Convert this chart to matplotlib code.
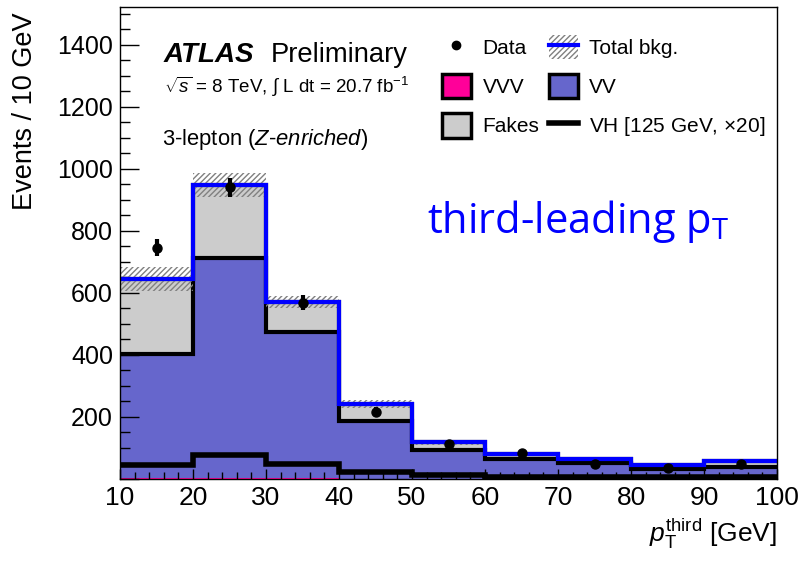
import numpy as np
import matplotlib.pyplot as plt
from matplotlib.patches import Patch
from matplotlib.lines import Line2D
from matplotlib.ticker import MultipleLocator, FuncFormatter

plt.rcParams['font.family'] = ['Liberation Sans', 'DejaVu Sans']
plt.rcParams['mathtext.fontset'] = 'custom'
plt.rcParams['mathtext.rm'] = 'Liberation Sans'
plt.rcParams['mathtext.it'] = 'Liberation Sans:italic'
plt.rcParams['mathtext.bf'] = 'Liberation Sans:bold'
plt.rcParams['hatch.linewidth'] = 1.0

# pT of third lepton, 10 GeV bins
edges = np.arange(10, 101, 10)
vvv = np.array([2, 3, 2, 1, 1, 0.5, 0.5, 0.3, 0.3])
vv = np.array([401, 710, 472, 186, 93, 64, 51, 32, 39])
fakes = np.array([242, 235, 97, 55, 25, 16, 12, 13, 19])
bkg_err = np.array([40, 38, 20, 14, 8, 6, 6, 5, 5])
vh_x20 = np.array([45, 77, 48, 22, 13, 6, 6, 5, 5])
data = np.array([745, 940, 568, 216, 113, 84, 48, 36, 48])

c_vvv = '#ff0099'
c_vv = '#6666cc'
c_fakes = '#cccccc'

vv_top = vvv + vv
total = vv_top + fakes
centers = 0.5 * (edges[:-1] + edges[1:])

fig = plt.figure(figsize=(8.03, 5.65), dpi=100)
ax = fig.add_axes([120 / 803, 86 / 565, 657 / 803, 472 / 565])

# stacked backgrounds
ax.stairs(vvv, edges, baseline=0, fill=True, color=c_vvv, zorder=1)
ax.stairs(vv_top, edges, baseline=vvv, fill=True, color=c_vv, zorder=1)
ax.stairs(total, edges, baseline=vv_top, fill=True, color=c_fakes, zorder=1)
ax.stairs(vv_top, edges, baseline=None, color='black', lw=3, zorder=2)
ax.stairs(total, edges, baseline=None, color='black', lw=3, zorder=2)

# uncertainty band on total background
ax.stairs(total + bkg_err, edges, baseline=total - bkg_err, fill=True,
          facecolor='none', edgecolor='#808080', hatch='//////', lw=0, zorder=3)
ax.stairs(total, edges, baseline=None, color='#0000ff', lw=3, zorder=4)

# signal, scaled x20
ax.stairs(vh_x20, edges, baseline=None, color='black', lw=4, zorder=5)

ax.errorbar(centers, data, yerr=np.sqrt(data), fmt='o', color='black',
            ms=6.5, elinewidth=3, capsize=0, zorder=6)

ax.set_xlim(10, 100)
ax.set_ylim(0, 1522)
ax.xaxis.set_major_locator(MultipleLocator(10))
ax.xaxis.set_minor_locator(MultipleLocator(2))
ax.yaxis.set_major_locator(MultipleLocator(200))
ax.yaxis.set_minor_locator(MultipleLocator(50))
ax.yaxis.set_major_formatter(FuncFormatter(lambda v, p: '' if v == 0 else f'{v:.0f}'))
ax.tick_params(axis='both', which='both', direction='in', top=False, right=False,
               width=1)
ax.tick_params(axis='y', which='major', length=14, labelsize=18, pad=5)
ax.tick_params(axis='y', which='minor', length=7)
ax.tick_params(axis='x', which='major', length=7, pad=5, labelsize=19)
ax.tick_params(axis='x', which='minor', length=5)
for s in ax.spines.values():
    s.set_linewidth(1)
    s.set_zorder(8)
ax.set_axisbelow(False)

ax.set_ylabel('Events / 10 GeV', fontsize=19.5, loc='top')
ax.yaxis.set_label_coords(-0.125, 0.989)
ax.text(1.0, (479 - 542) / 472, r'$p_{\mathrm{T}}^{\mathrm{third}}$ [GeV]',
        transform=ax.transAxes, fontsize=19, ha='right', va='baseline')

ax.text(0.067, 0.883, 'ATLAS', transform=ax.transAxes, fontsize=20,
        fontweight='bold', style='italic', va='baseline')
ax.text(0.23, 0.883, 'Preliminary', transform=ax.transAxes, fontsize=19.7, va='baseline')
ax.text(0.067, 0.818, r'$\sqrt{s}$ = 8 TeV, $\int$ L dt = 20.7 fb$^{-1}$',
        transform=ax.transAxes, fontsize=13.5, va='baseline')
ax.text(0.064, 0.708, r'3-lepton ($\mathit{Z}$-$\mathit{enriched}$)',
        transform=ax.transAxes, fontsize=15.8, va='baseline')

ax.text(0.467, 0.521, r'third-leading p$_\mathregular{T}$', transform=ax.transAxes,
        fontsize=30, color='#0000ff', va='baseline', family='Open Sans')

handles = [
    Line2D([], [], marker='o', color='black', ls='none', ms=6),
    Patch(facecolor=c_vvv, edgecolor='black', lw=2.5),
    Patch(facecolor=c_fakes, edgecolor='black', lw=2.5),
    (Patch(facecolor='white', edgecolor='#808080', hatch='//////', lw=0),
     Line2D([], [], color='#0000ff', lw=3)),
    Patch(facecolor=c_vv, edgecolor='black', lw=2.5),
    Line2D([], [], color='black', lw=4),
]
labels = ['Data', 'VVV', 'Fakes', 'Total bkg.', 'VV', r'VH [125 GeV, $\times$20]']
ax.legend(handles, labels, ncol=2, loc='upper left', bbox_to_anchor=(0.474, 0.962),
          frameon=False, fontsize=15, handlelength=1.4, handleheight=1.4,
          handletextpad=0.55, columnspacing=0.45, labelspacing=0.72, borderpad=0)

fig.savefig('out.png', dpi=100)
